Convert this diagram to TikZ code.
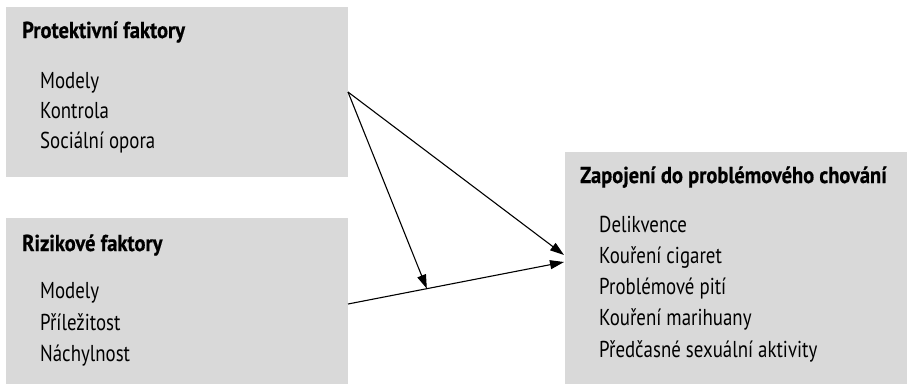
\documentclass[tikz,border=0pt]{standalone}
\usepackage{fontspec}
\setmainfont{PT Sans}[FakeStretch=0.82]
\newfontfamily\headfont{PT Sans Bold}[FakeStretch=0.89, FakeBold=0.6]
\usetikzlibrary{arrows.meta}
\definecolor{boxgray}{RGB}{217,217,217}
\tikzset{
  panel/.style={fill=boxgray, draw=none, inner sep=0pt, outer sep=0pt},
  heading/.style={anchor=base west, inner sep=0pt, font=\fontsize{23}{28}\headfont},
  item/.style={anchor=base west, inner sep=0pt, font=\fontsize{23}{28}\selectfont},
  link/.style={line width=1.1pt, -{Triangle[length=14pt,width=9pt]}}
}
\begin{document}
\begin{tikzpicture}[x=1pt,y=-1pt]
\useasboundingbox (0,0) rectangle (907,384);
% panels
\node[panel, minimum width=342pt, minimum height=170pt, anchor=north west] (prot) at (6,7) {};
\node[panel, minimum width=342pt, minimum height=166pt, anchor=north west] (riz) at (6,218) {};
\node[panel, minimum width=342pt, minimum height=232pt, anchor=north west] (zap) at (565,152) {};
% texts
\node[heading] (h1) at (22,38) {Protektivní faktory};
\node[item] (p1) at (40,88) {Modely};
\node[item] (p2) at (40,118) {Kontrola};
\node[item] (p3) at (40,148) {Sociální opora};
\node[heading] (h2) at (22,251) {Rizikové faktory};
\node[item] (r1) at (40,298) {Modely};
\node[item] (r2) at (40,330) {Příležitost};
\node[item] (r3) at (40,361) {Náchylnost};
\node[heading] (h3) at (580,183) {Zapojení do problémového chování};
\node[item] (z1) at (599,232) {Delikvence};
\node[item] (z2) at (599,263) {Kouření cigaret};
\node[item] (z3) at (599,294) {Problémové pití};
\node[item] (z4) at (599,325) {Kouření marihuany};
\node[item] (z5) at (599,357) {Předčasné sexuální aktivity};
% connectors
\coordinate (s1) at (prot.east);
\coordinate (s2) at (348,304);
\coordinate (t1) at (564,255);
\coordinate (t2) at (564,262);
\draw[link] (s1) -- (t1);
\draw[link] (s2) -- (t2) coordinate[pos=0.365] (m);
\draw[link] (s1) -- (m);
\end{tikzpicture}
\end{document}
